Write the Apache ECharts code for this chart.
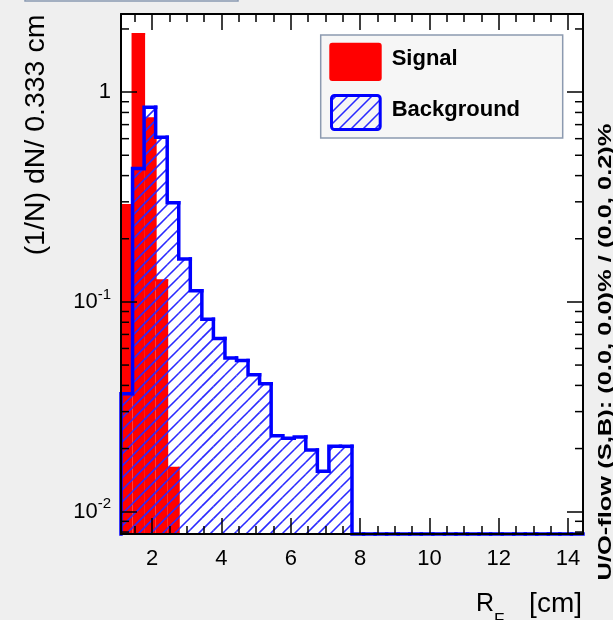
<!DOCTYPE html>
<html><head><meta charset="utf-8">
<script src="https://cdn.jsdelivr.net/npm/echarts@6/dist/echarts.min.js"></script>
<style>html,body{margin:0;padding:0;background:#efefef}#c{width:613px;height:620px}</style>
</head><body><div id="c"></div>
<script>
// ---- data ----
const xMin = 1.1, binWidth = 1 / 3, nBins = 40;
const yMin = 0.00783, yMax = 2.357;
const signal = [0.290, 1.89, 0.750, 0.127, 0.0162,
  0, 0, 0, 0, 0, 0, 0, 0, 0, 0, 0, 0, 0, 0, 0,
  0, 0, 0, 0, 0, 0, 0, 0, 0, 0, 0, 0, 0, 0, 0, 0, 0, 0, 0, 0];
const background = [0.0365, 0.433, 0.846, 0.610, 0.297, 0.160, 0.113, 0.0827, 0.0669, 0.0540,
  0.0526, 0.0449, 0.0407, 0.0230, 0.0224, 0.0227, 0.0197, 0.0156, 0.0205, 0.0205,
  0, 0, 0, 0, 0, 0, 0, 0, 0, 0, 0, 0, 0, 0, 0, 0, 0, 0, 0, 0];
const xMajorTicks = [2, 4, 6, 8, 10, 12, 14];
const xMinorTicks = [1.5, 2.5, 3, 3.5, 4.5, 5, 5.5, 6.5, 7, 7.5, 8.5, 9, 9.5, 10.5, 11, 11.5, 12.5, 13, 13.5];
const yMinorTicks = [0.008, 0.009, 0.02, 0.03, 0.04, 0.05, 0.06, 0.07, 0.08, 0.09,
  0.2, 0.3, 0.4, 0.5, 0.6, 0.7, 0.8, 0.9, 2];
const legendLabels = ['Signal', 'Background'];
const yTitle = '(1/N) dN/ 0.333 cm';
const xTitleMain = 'R', xTitleSub = 'F', xTitleUnit = '[cm]';
const flowText = 'U/O-flow (S,B): (0.0, 0.0)% / (0.0, 0.2)%';

// ---- derived ----
const edges = Array.from({length: nBins + 1}, (_, i) => xMin + i * binWidth);
const xMax = edges[nBins];
const FONT = 'Liberation Sans, Arial, Helvetica, sans-serif';
const HATCH = 12;

function hatchLines(x0, y0, x1, y1) {
  const out = [];
  const cStart = Math.ceil((x0 + y0) / HATCH) * HATCH;
  for (let c = cStart; c <= x1 + y1; c += HATCH) {
    const xa = Math.max(x0, c - y1), xb = Math.min(x1, c - y0);
    if (xb > xa) {
      out.push({type: 'line', shape: {x1: xa, y1: c - xa, x2: xb, y2: c - xb},
        style: {stroke: '#2a2aff', lineWidth: 1.6}});
    }
  }
  return out;
}

function histData(vals) {
  return vals.map((v, i) => [edges[i], edges[i + 1], v, i ? vals[i - 1] : 0, i === vals.length - 1 ? 1 : 0]);
}
function histRender(fill, stroke, lw, hatched) {
  return function (params, api) {
    const lo = api.value(0), hi = api.value(1), v = api.value(2), pv = api.value(3), last = api.value(4);
    const vc = Math.max(v, yMin), pc = Math.max(pv, yMin);
    const loB = api.coord([lo, yMin]), loT = api.coord([lo, vc]), hiT = api.coord([hi, vc]), loP = api.coord([lo, pc]);
    let children = [];
    if (v > yMin) {
      if (fill) {
        children.push({type: 'rect', shape: {x: loT[0], y: loT[1], width: hiT[0] - loT[0], height: loB[1] - loT[1]},
          style: {fill: fill}});
      }
      if (hatched) children = children.concat(hatchLines(loT[0], loT[1], hiT[0], loB[1]));
    }
    const pts = [loP, loT, hiT];
    if (last) pts.push(api.coord([hi, yMin]));
    children.push({type: 'polyline', shape: {points: pts},
      style: {stroke: stroke, lineWidth: lw, fill: null, lineCap: 'square', lineJoin: 'miter'}});
    return {type: 'group', children: children};
  };
}

const chart = echarts.init(document.getElementById('c'), null, {renderer: 'canvas'});
const axisCommon = {min: xMin, max: xMax, type: 'value', z: 10, splitLine: {show: false}};
const tickStyle = {color: '#000', width: 1.5};

const legendHatch = hatchLines(331.5, 95.5, 380.2, 129.5).map(e => Object.assign(e, {z: 21}));

const option = {
  backgroundColor: '#efefef',
  animation: false,
  grid: {left: 121, right: 30, top: 14, bottom: 86, show: true, backgroundColor: '#ffffff', borderWidth: 0},
  xAxis: [
    Object.assign({}, axisCommon, {position: 'bottom',
      axisLine: {show: true, onZero: false, lineStyle: {color: '#000', width: 2}},
      axisTick: {show: true, inside: true, length: 16, customValues: xMajorTicks, lineStyle: tickStyle},
      axisLabel: {show: true, customValues: xMajorTicks, fontSize: 22, fontFamily: FONT, color: '#000', margin: 14}}),
    Object.assign({}, axisCommon, {position: 'top',
      axisLine: {show: true, onZero: false, lineStyle: {color: '#000', width: 2}},
      axisTick: {show: true, inside: true, length: 16, customValues: xMajorTicks, lineStyle: tickStyle},
      axisLabel: {show: false}}),
    Object.assign({}, axisCommon, {position: 'bottom',
      axisLine: {show: false, onZero: false},
      axisTick: {show: true, inside: true, length: 8, customValues: xMinorTicks, lineStyle: tickStyle},
      axisLabel: {show: false}}),
    Object.assign({}, axisCommon, {position: 'top',
      axisLine: {show: false, onZero: false},
      axisTick: {show: true, inside: true, length: 8, customValues: xMinorTicks, lineStyle: tickStyle},
      axisLabel: {show: false}})
  ],
  yAxis: [
    {type: 'log', min: yMin, max: yMax, position: 'left', z: 10, splitLine: {show: false},
      axisLine: {show: true, onZero: false, lineStyle: {color: '#000', width: 2}},
      axisTick: {show: true, inside: true, length: 16, lineStyle: tickStyle},
      axisLabel: {show: true, margin: 10, color: '#000',
        formatter: function (v) {
          const l = Math.log10(v), e = Math.round(l);
          if (Math.abs(l - e) > 1e-6) return '';
          return e === 0 ? '{b|1}' : '{b|10}{s|' + e + '}';
        },
        rich: {b: {fontSize: 22, fontFamily: FONT, color: '#000', lineHeight: 30},
               s: {fontSize: 15, fontFamily: FONT, color: '#000', verticalAlign: 'top'}}}},
    {type: 'log', min: yMin, max: yMax, position: 'right', z: 10, splitLine: {show: false},
      axisLine: {show: true, onZero: false, lineStyle: {color: '#000', width: 2}},
      axisTick: {show: true, inside: true, length: 16, lineStyle: tickStyle},
      axisLabel: {show: false}}
  ],
  series: [
    {type: 'custom', name: legendLabels[0], xAxisIndex: 0, yAxisIndex: 0, z: 2, clip: false,
      encode: {x: [0, 1], y: 2}, renderItem: histRender('#ff0000', '#ff0000', 2, false), data: histData(signal)},
    {type: 'custom', name: legendLabels[1], xAxisIndex: 0, yAxisIndex: 0, z: 3, clip: false,
      encode: {x: [0, 1], y: 2}, renderItem: histRender(null, '#0000ff', 3.5, true), data: histData(background)},
    {type: 'custom', name: 'minorY', xAxisIndex: 0, yAxisIndex: 0, z: 12, clip: false, silent: true,
      encode: {x: 0, y: 1}, data: yMinorTicks.map(v => [xMin, v]),
      renderItem: function (params, api) {
        const v = api.value(1);
        const l = api.coord([xMin, v]), r = api.coord([xMax, v]);
        return {type: 'group', children: [
          {type: 'line', shape: {x1: l[0], y1: l[1], x2: l[0] + 8, y2: l[1]}, style: {stroke: '#000', lineWidth: 1.5}},
          {type: 'line', shape: {x1: r[0] - 8, y1: r[1], x2: r[0], y2: r[1]}, style: {stroke: '#000', lineWidth: 1.5}}
        ]};
      }}
  ],
  graphic: [
    {type: 'rect', shape: {x: 25, y: -10, width: 213, height: 11}, style: {fill: '#efefef', stroke: '#8a9bb3', lineWidth: 1.5}},
    {type: 'rect', z: 20, shape: {x: 320.7, y: 35, width: 242, height: 103}, style: {fill: '#f6f6f6', stroke: '#8c9ab0', lineWidth: 1.5}},
    {type: 'rect', z: 21, shape: {x: 329.3, y: 42.7, width: 52.4, height: 38.3, r: 3}, style: {fill: '#ff0000'}},
    {type: 'text', z: 21, x: 391.7, y: 59, style: {text: legendLabels[0], font: 'bold 22px ' + FONT, fill: '#000', align: 'left', verticalAlign: 'middle'}},
    {type: 'rect', z: 22, shape: {x: 331.5, y: 95.5, width: 48.7, height: 34, r: 3}, style: {fill: null, stroke: '#0000ff', lineWidth: 3}},
    {type: 'text', z: 21, x: 391.7, y: 110, style: {text: legendLabels[1], font: 'bold 22px ' + FONT, fill: '#000', align: 'left', verticalAlign: 'middle'}},
    {type: 'text', z: 21, x: 36, y: 135, rotation: Math.PI / 2, style: {text: yTitle, font: '28.5px ' + FONT, fill: '#000', align: 'center', verticalAlign: 'middle'}},
    {type: 'text', z: 21, x: 605.4, y: 352, rotation: Math.PI / 2, scaleX: 1.34, style: {text: flowText, font: 'bold 19px ' + FONT, fill: '#000', align: 'center', verticalAlign: 'middle'}},
    {type: 'text', z: 21, x: 476, y: 604, style: {text: xTitleMain, font: '25px ' + FONT, fill: '#000', align: 'left', verticalAlign: 'middle'}},
    {type: 'text', z: 21, x: 494, y: 620, style: {text: xTitleSub, font: '17px ' + FONT, fill: '#000', align: 'left', verticalAlign: 'middle'}},
    {type: 'text', z: 21, x: 582, y: 604, style: {text: xTitleUnit, font: '28px ' + FONT, fill: '#000', align: 'right', verticalAlign: 'middle'}}
  ].concat(legendHatch)
};
chart.setOption(option);
</script>
</body></html>
